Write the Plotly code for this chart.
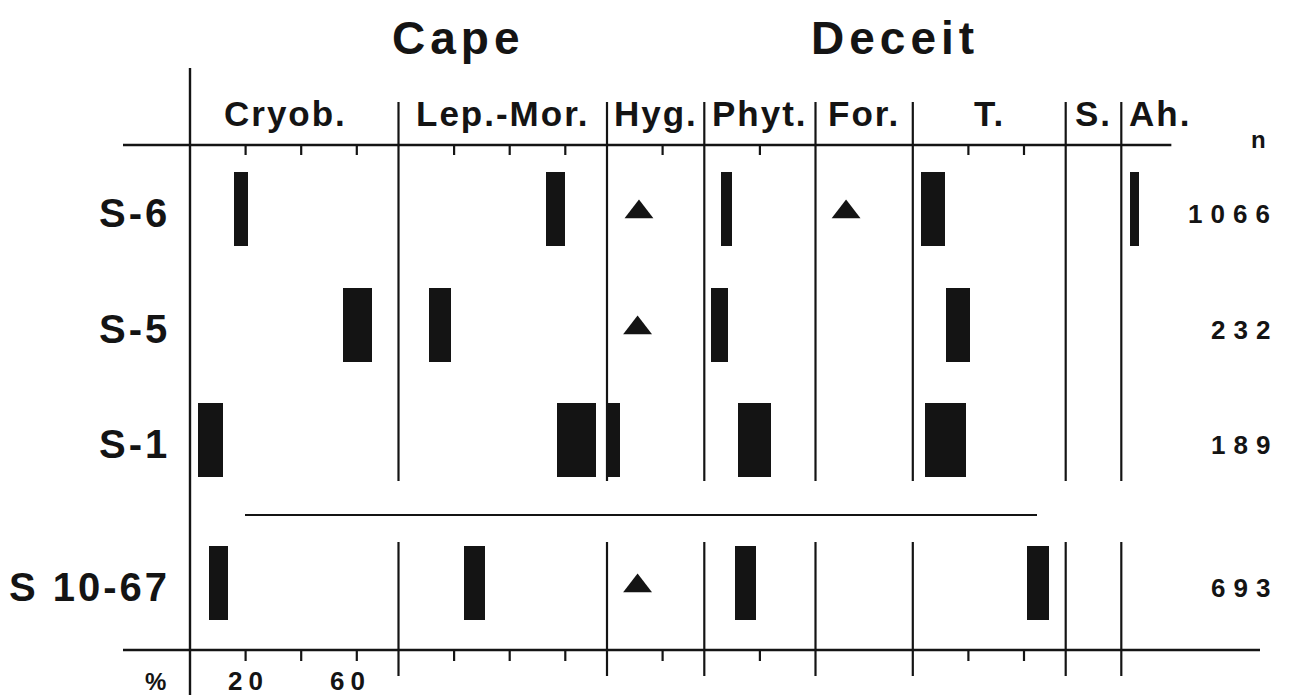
import plotly.graph_objects as go

# ---------------- data ----------------
sites = ["S-6", "S-5", "S-1", "S 10-67"]
n_counts = [1066, 232, 189, 693]
groups = ["Cryob.", "Lep.-Mor.", "Hyg.", "Phyt.", "For.", "T.", "S.", "Ah."]
group_span = [75, 75, 35, 40, 35, 55, 20, 18]          # % length of each column axis
group_ticks = [[20, 40, 60], [20, 40, 60], [20], [20], [], [20, 40], [], []]
scale_labels = ["20", "60"]
scale_label_pct = [20, 60]

# bar extents (low % / high %) per site, one value per group (None = no bar)
s6_low = [16, 53, None, 6, None, 3, None, 3]
s6_high = [21, 60, None, 10, None, 11.5, None, 6.5]
s5_low = [55, 11, None, 2.5, None, 12, None, None]
s5_high = [65.5, 19, None, 8.5, None, 20.5, None, None]
s1_low = [3, 57, 0, 12, None, 4.5, None, None]
s1_high = [12, 71, 4.5, 24, None, 19, None, None]
s10_low = [7, 23.5, None, 11, None, 41, None, None]
s10_high = [13.5, 31, None, 18.5, None, 49, None, None]

# triangles (taxon present, small share) at % position
s6_tri = [None, None, 11.5, None, 11, None, None, None]
s5_tri = [None, None, 11, None, None, None, None, None]
s1_tri = [None, None, None, None, None, None, None, None]
s10_tri = [None, None, 11, None, None, None, None, None]

lows = [s6_low, s5_low, s1_low, s10_low]
highs = [s6_high, s5_high, s1_high, s10_high]
tris = [s6_tri, s5_tri, s1_tri, s10_tri]

# ---------------- layout helpers ----------------
W, H = 1290, 695
X0 = 190.0          # pixel of 0 % in first column
SC = 2.78           # pixels per percent
row_y = [209, 325, 440, 583]
BAR_H = 74
INK = "#141414"

def X(px):
    return (px - X0) / SC

offsets = []
acc = 0
for s in group_span:
    offsets.append(acc)
    acc += s
total_span = acc

fig = go.Figure()

# bars
for i, site in enumerate(sites):
    xs, bs = [], []
    for g in range(len(groups)):
        lo, hi = lows[i][g], highs[i][g]
        if lo is not None:
            bs.append(offsets[g] + lo)
            xs.append(hi - lo)
    fig.add_trace(go.Bar(
        orientation="h", x=xs, base=bs, y=[row_y[i]] * len(xs),
        width=BAR_H, marker=dict(color=INK, line=dict(width=0)),
        name=site, showlegend=False, hoverinfo="skip"))

# triangles
for i, site in enumerate(sites):
    tx = [offsets[g] + v for g, v in enumerate(tris[i]) if v is not None]
    if tx:
        fig.add_trace(go.Scatter(
            x=tx, y=[row_y[i] + 3] * len(tx), mode="markers",
            marker=dict(symbol="triangle-up", size=25, color=INK, line=dict(width=0)),
            showlegend=False, hoverinfo="skip"))

shapes = []
def line(x0, y0, x1, y1, w=2.2):
    shapes.append(dict(type="line", xref="x", yref="y", x0=x0, y0=y0, x1=x1, y1=y1,
                       line=dict(color=INK, width=w), layer="above"))

TOP_Y, BOT_Y = 145, 650
# horizontal axes
line(X(123), TOP_Y, total_span, TOP_Y, 2.6)
line(X(123), BOT_Y, X(1260), BOT_Y, 2.6)
# left axis
line(0, 68, 0, H + 5, 2.4)
# column dividers
for g in range(1, len(groups)):
    xo = offsets[g]
    line(xo, 102, xo, 481, 2.2)
    line(xo, 542, xo, 676, 2.2)
# separator line above S 10-67
line(X(245), 515, X(1037), 515, 2.2)
# ticks
for g, tk in enumerate(group_ticks):
    for t in tk:
        line(offsets[g] + t, TOP_Y, offsets[g] + t, TOP_Y + 10, 2.2)
        line(offsets[g] + t, BOT_Y, offsets[g] + t, BOT_Y + 11, 2.2)

FONT = "Liberation Sans, Arial, Helvetica, sans-serif"
ann = []
def text(x, y, s, size, anchor="center", ls=0, xshift=0):
    if ls:
        s = '<span style="letter-spacing:%dpx">%s</span>' % (ls, s)
    ann.append(dict(x=x, y=y, xref="x", yref="y", text=s, showarrow=False,
                    xanchor=anchor, yanchor="middle", xshift=xshift,
                    font=dict(family=FONT, size=size, color=INK, weight="bold")))

# titles
text(X(390), 38, "Cape", 46, anchor="left", ls=5)
text(X(809), 38, "Deceit", 46, anchor="left", ls=5)

# column labels
for g, name in enumerate(groups):
    if name == "Ah.":
        text(offsets[g] + 2, 113, name, 35, anchor="left", ls=2)
    elif name == "Cryob.":
        text(offsets[g] + group_span[g] / 2 - 3, 113, name, 35, ls=2)
    else:
        text(offsets[g] + group_span[g] / 2, 113, name, 35, ls=2)

# row labels and n
for i, site in enumerate(sites):
    text(X(172), row_y[i] + 4, site, 40, anchor="right", ls=3)
    text(X(1280), row_y[i] + 5, str(n_counts[i]), 26, anchor="right", ls=8)
text(X(1258), 139, "n", 24)

# bottom scale labels
text(X(155), 681, "%", 24)
for lab, p, sh in zip(scale_labels, scale_label_pct, [3, -6]):
    text(offsets[0] + p, 681, lab, 26, ls=6, xshift=sh)

fig.update_layout(
    width=W, height=H, margin=dict(l=0, r=0, t=0, b=0),
    paper_bgcolor="white", plot_bgcolor="white",
    barmode="overlay", bargap=0,
    xaxis=dict(range=[X(0), X(W)], visible=False, fixedrange=True),
    yaxis=dict(range=[H, 0], visible=False, fixedrange=True),
    shapes=shapes, annotations=ann, showlegend=False,
)

fig.write_html("out.html", config={"displayModeBar": False},
               post_script="document.body.style.margin='0';document.body.style.overflow='hidden';")
